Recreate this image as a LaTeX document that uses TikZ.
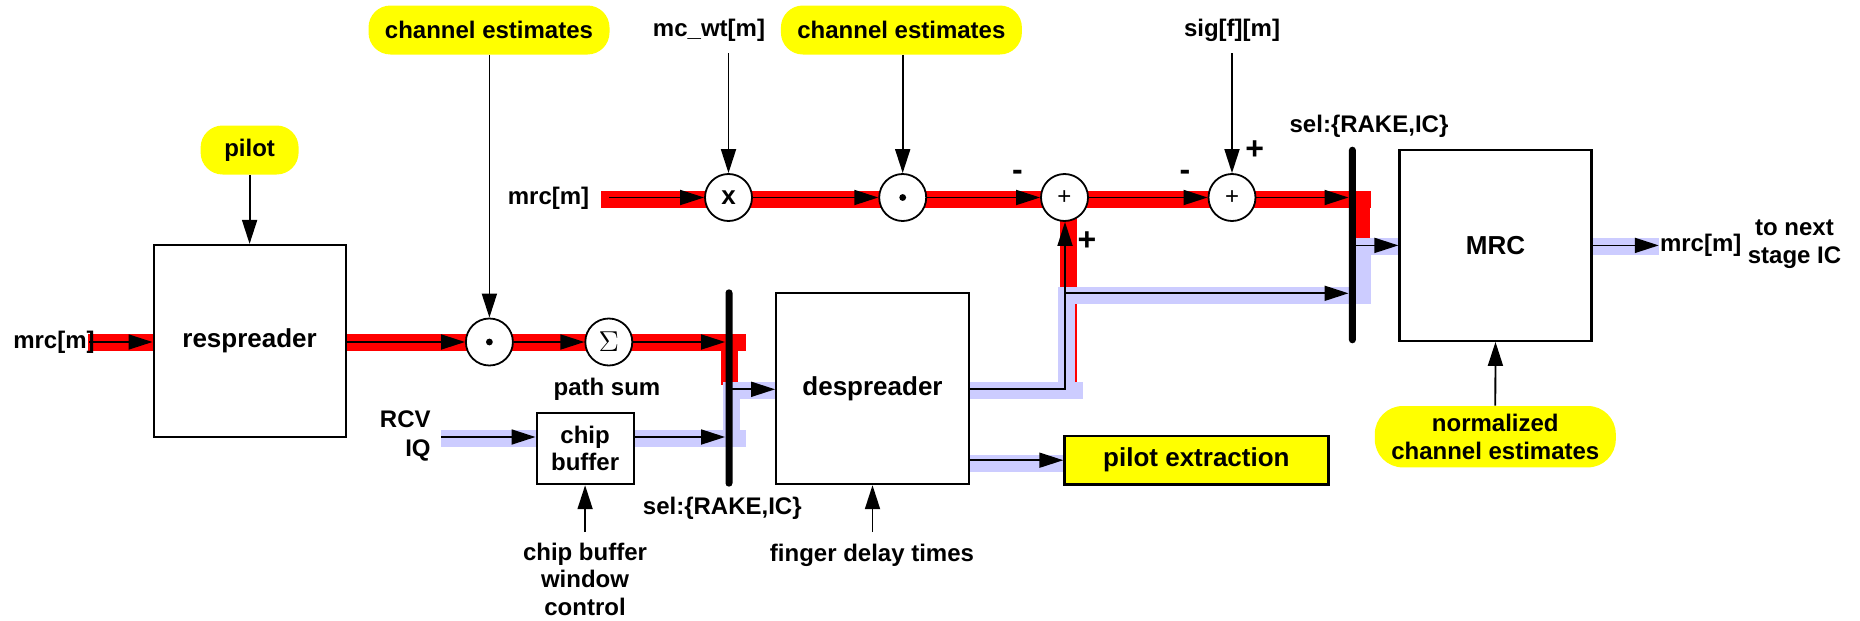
\documentclass[tikz,border=0pt]{standalone}
\usepackage{fontspec}
\setmainfont{Liberation Sans}
\usetikzlibrary{arrows.meta,backgrounds}
\definecolor{lav}{RGB}{204,204,255}
\definecolor{pyel}{RGB}{255,255,0}
\begin{document}
\begin{tikzpicture}[x=0.5pt,y=-0.5pt,
  lbl/.style={font=\fontsize{12}{13.75}\selectfont\bfseries, inner sep=0pt, align=center},
  sign/.style={font=\fontsize{16}{16}\selectfont\bfseries, inner sep=0pt},
  blk/.style={draw, line width=1.1pt, fill=white, inner sep=0pt, font=\fontsize{13}{15}\selectfont\bfseries, align=center},
  pill/.style={fill=pyel, rounded corners=11pt, inner sep=0pt, font=\fontsize{12}{14.2}\selectfont\bfseries, align=center},
  circ/.style={circle, draw, line width=0.9pt, fill=white, minimum size=23.5pt, inner sep=0pt},
  rband/.style={line width=8.5pt, red},
  bband/.style={line width=8.5pt, lav},
  arr/.style={-{Triangle[length=12pt,width=7.5pt]}, line width=0.9pt},
  wire/.style={line width=0.9pt},
  selbar/.style={fill=black, rounded corners=1.75pt, minimum width=3.5pt, inner sep=0pt}
]
\useasboundingbox (0,0) rectangle (1860,621);

% ---------- nodes ----------
\node[pill, minimum width=120.5pt, minimum height=24.5pt] (ce1) at (489,30) {channel estimates};
\node[pill, minimum width=49pt, minimum height=24.5pt] (pilot) at (249.6,150) {pilot};
\node[blk, minimum width=96pt, minimum height=96pt] (resp) at (249.6,341) {respreader};
\node[lbl] (mrcL) at (54,342) {mrc[m]};
\node[circ] (dot1) at (489.4,342) {};
\node[circ, font=\fontsize{14}{14}\selectfont] (sig) at (608.8,342) {$\Sigma$};
\node[lbl] (psum) at (607,389) {path sum};
\node[lbl, font=\fontsize{12}{14.5}\selectfont\bfseries, align=right, anchor=east] (rcv) at (431,436) {RCV\\IQ};
\node[blk, minimum width=48.5pt, minimum height=35.7pt, font=\fontsize{12}{13.3}\selectfont\bfseries] (cbuf) at (585.1,448.4) {chip\\buffer};
\node[lbl] (cbwc) at (585,579) {chip buffer\\window\\control};
\node[selbar, minimum height=98.7pt] (bar1) at (729,388) {};
\node[lbl] (sel1) at (722.3,508.3) {sel:\{RAKE,IC\}};
\node[blk, minimum width=96.3pt, minimum height=95.4pt] (desp) at (872.5,388.7) {despreader};
\node[lbl] (fdt) at (872,555) {finger delay times};
\node[blk, fill=pyel, minimum width=132pt, minimum height=24.2pt] (pe) at (1196.4,460.2) {pilot extraction};

\node[lbl] (mrcT) at (548.5,198) {mrc[m]};
\node[lbl] (mcwt) at (709,30.7) {mc\_wt[m]};
\node[circ, font=\fontsize{13}{13}\selectfont\bfseries] (xm) at (728.5,197.5) {x};
\node[pill, minimum width=120.5pt, minimum height=24.5pt] (ce2) at (901.4,30) {channel estimates};
\node[circ] (dot2) at (902.7,197.5) {};
\node[circ, font=\fontsize{12}{12}\selectfont] (add1) at (1064.5,197.5) {+};
\node[circ, font=\fontsize{12}{12}\selectfont] (add2) at (1232,197.5) {+};
\node[lbl] (sigf) at (1232,30.7) {sig[f][m]};
\node[selbar, minimum height=98.3pt] (bar2) at (1352.4,245) {};
\node[lbl] (sel2) at (1369,126.7) {sel:\{RAKE,IC\}};
\node[blk, minimum width=96pt, minimum height=95.4pt] (mrc) at (1495.5,245.4) {MRC};
\node[pill, rounded corners=14pt, minimum width=120.5pt, minimum height=30.7pt] (nce) at (1495.3,436.7) {normalized\\channel estimates};
\node[lbl, anchor=west] (mrcR) at (1659.6,245) {mrc[m]};
\node[lbl, font=\fontsize{12}{14}\selectfont\bfseries] (next) at (1794.5,244) {to next\\stage IC};

\node[sign] (m1) at (1017.5,175) {-};
\node[sign] (m2) at (1185,175) {-};
\node[sign] (p1) at (1254.7,150) {+};
\node[sign] (p2) at (1087,240.8) {+};

\fill (dot1) circle (1.7pt);
\fill (dot2) circle (1.7pt);

% ---------- coordinates ----------
\coordinate (rin) at (441,437);
\coordinate (j1) at (731.7,389.3);
\coordinate (j2) at (1065,293.3);
\coordinate (j3) at (1356,245.4);
\coordinate (t0) at (609,197.5);
\coordinate (mcs) at (728.5,53);
\coordinate (sfs) at (1232,53);
\coordinate (cbs) at (585.1,532);
\coordinate (fds) at (872.5,532);
\coordinate (oend) at (1658.8,245.4);

% ---------- black connectors ----------
\draw[arr] ([xshift=-3pt]mrcL.east) -- (resp.west |- mrcL.east);
\draw[arr] (pilot.south) -- (resp.north);
\draw[arr] (ce1.south -| dot1) -- (dot1.north);
\draw[arr] (resp.east |- dot1) -- (dot1.west);
\draw[arr] (dot1) -- (sig);
\draw[arr] (sig.east) -- (sig.east -| bar1.west);
\draw[arr] (rin) -- (rin -| cbuf.west);
\draw[arr] (rin -| cbuf.east) -- (rin -| bar1.west);
\draw[arr] (j1) -- (j1 -| desp.west);
\draw[arr] (cbs) -- (cbuf.south);
\draw[arr] (fds) -- (desp.south);
\draw[arr] (desp.east |- pe.west) -- (pe.west);
\draw[wire] (desp.east) -| (j2);
\draw[arr] (j2) -- (j2 -| bar2.west);
\draw[arr] (j2) -- (j2 |- add1.south);

\draw[arr] (t0) -- (xm.west);
\draw[arr] (mcs) -- (xm.north);
\draw[arr] (xm) -- (dot2);
\draw[arr] (ce2.south -| dot2) -- (dot2.north);
\draw[arr] (dot2) -- (add1);
\draw[arr] (add1) -- (add2);
\draw[arr] (sfs) -- (add2.north);
\draw[arr] (add2.east) -- (add2.east -| bar2.west);
\draw[arr] (j3) -- (j3 -| mrc.west);
\draw[arr] (nce.north) -- (mrc.south);
\draw[arr] (mrc.east) -- (oend);

% ---------- coloured bands ----------
\begin{pgfonlayer}{background}
\draw[rband] (88,342) -- (153.5,342);
\draw[rband] (345.7,342) -- (746.4,342);
\draw[rband] (729.9,342) -- (729.9,385);
\draw[bband] (441,438.3) -- (746.4,438.3);
\draw[bband] (731.7,438.3) -- (731.7,390.5) -- (776.3,390.5);
\draw[rband] (1068,199) -- (1068,382);
\draw[bband] (968.8,390.5) -- (1083,390.5);
\draw[bband] (1066,390.5) -- (1066,295) -- (1370.5,295);
\draw[bband] (968.8,463) -- (1064.3,463);
\draw[rband] (601,199) -- (1370.5,199);
\draw[rband] (1361.6,199) -- (1361.6,238);
\draw[bband] (1362.5,295) -- (1362.5,246.7) -- (1399.5,246.7);
\draw[bband] (1591.4,246.7) -- (1658.8,246.7);
\end{pgfonlayer}
\end{tikzpicture}
\end{document}
